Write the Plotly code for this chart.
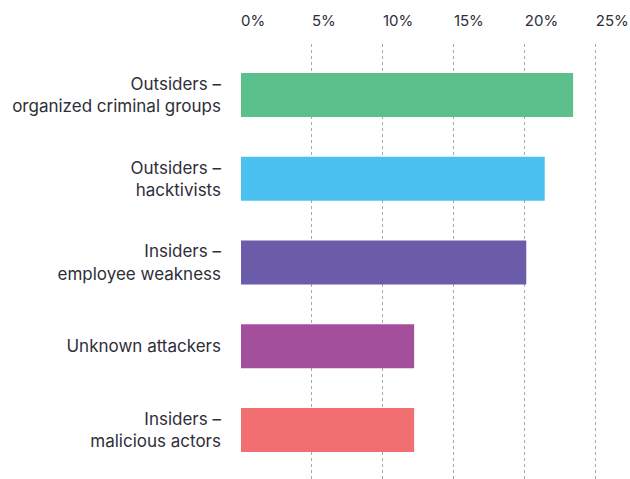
import plotly.graph_objects as go

categories = [
    "Outsiders –<br>organized criminal groups",
    "Outsiders –<br>hacktivists",
    "Insiders –<br>employee weakness",
    "Unknown attackers",
    "Insiders –<br>malicious actors",
]
values = [23.4, 21.4, 20.1, 12.2, 12.2]
colors = ["#5CC08D", "#4BC1F0", "#6A5CA8", "#A34F9C", "#F16F70"]
tick_vals = [0, 5, 10, 15, 20, 25]
tick_text = ["0%", "5%", "10%", "15%", "20%", "25%"]

fig = go.Figure(go.Bar(
    x=values, y=categories, orientation="h",
    marker=dict(color=colors, line=dict(width=0)),
    width=0.525,
    hoverinfo="skip",
))

fig.update_layout(
    width=630, height=479,
    margin=dict(l=241, r=20, t=44, b=0),
    paper_bgcolor="white", plot_bgcolor="white",
    font=dict(family="Inter, Liberation Sans, sans-serif", size=15, color="#2E2E38"),
    showlegend=False,
    xaxis=dict(
        side="top", range=[0, 26], tickvals=tick_vals, ticktext=tick_text,
        ticklabelposition="outside right", ticklabeloverflow="allow",
        showgrid=True, gridcolor="#A8A8A8", griddash="dot", gridwidth=1,
        zeroline=False, showline=False, ticks="", ticklabelstandoff=14,
        tickfont=dict(size=15),
    ),
    yaxis=dict(
        range=[4.585, -0.609], showgrid=False, zeroline=False, showline=False,
        ticks="", ticklabelstandoff=19, tickfont=dict(size=17),
    ),
)

fig.write_html(
    "out.html",
    config={"displayModeBar": False},
    post_script="document.body.style.margin='0';document.body.style.overflow='hidden';",
)
